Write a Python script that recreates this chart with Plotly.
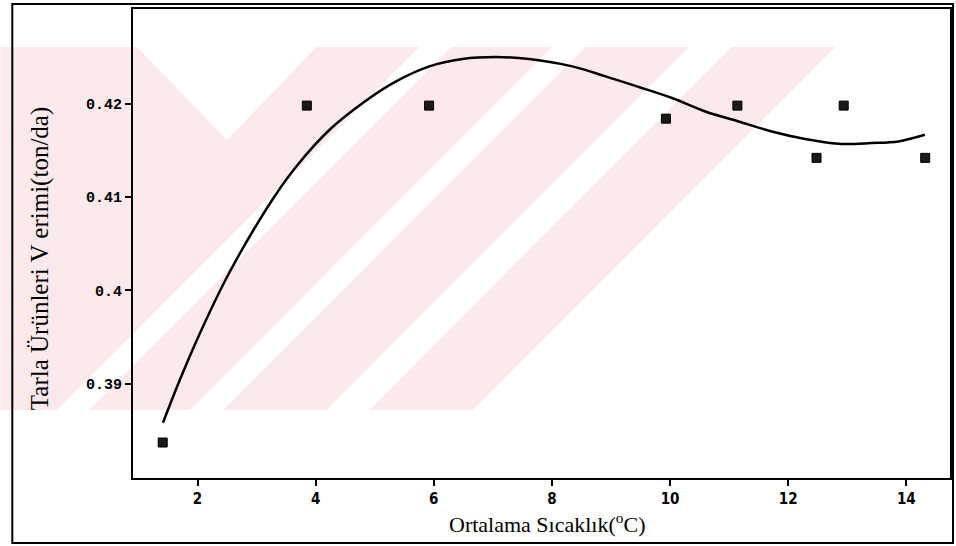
import plotly.graph_objects as go

# ---- data ----
obs_x = [1.41, 3.85, 5.92, 9.93, 11.14, 12.48, 12.94, 14.32]
obs_y = [0.3837, 0.4198, 0.4198, 0.4184, 0.4198, 0.4142, 0.4198, 0.4142]

fit_x = [1.414, 1.701, 2.046, 2.546, 3.277, 3.672, 4.235, 4.797, 5.361, 5.924,
         6.486, 7.051, 7.613, 8.345, 8.909, 9.471, 10.034, 10.598, 11.160,
         11.723, 12.287, 12.850, 13.412, 13.863, 14.314]
fit_y = [0.38582, 0.39043, 0.39550, 0.40200, 0.40982, 0.41328, 0.41721, 0.42008,
         0.42239, 0.42400, 0.42479, 0.42500, 0.42479, 0.42400, 0.42293, 0.42179,
         0.42061, 0.41917, 0.41810, 0.41703, 0.41622, 0.41571, 0.41579, 0.41596,
         0.41668]

x_ticks = [2, 4, 6, 8, 10, 12, 14]
y_ticks = [0.39, 0.40, 0.41, 0.42]
y_tick_text = ["0.39", "0.4", "0.41", "0.42"]

x_title = "Ortalama Sıcaklık(<sup>o</sup>C)"
y_title = "Tarla Ürünleri V erimi(ton/da)"

# ---- layout geometry (pixels) ----
W, H = 956, 546
L, R, T, B = 133, 952, 9, 478


def px(xp):
    return (xp - L) / (R - L)


def py(yp):
    return (B - yp) / (B - T)


def poly(points):
    return "M " + " L ".join(f"{px(a):.5f},{py(b):.5f}" for a, b in points) + " Z"


PINK = "#fde9ec"
shapes = []
band_top, band_bot = 47, 410
shapes.append(dict(type="path", xref="paper", yref="paper", layer="below",
                   path=poly([(0, band_top), (910, band_top), (910, band_bot), (0, band_bot)]),
                   fillcolor=PINK, line=dict(width=0)))
for a, b in [(420, 452), (553, 587), (690, 733)]:
    d = band_bot - band_top
    shapes.append(dict(type="path", xref="paper", yref="paper", layer="below",
                       path=poly([(a, band_top), (b, band_top), (b - d, band_bot), (a - d, band_bot)]),
                       fillcolor="white", line=dict(width=0)))
shapes.append(dict(type="path", xref="paper", yref="paper", layer="below",
                   path=poly([(137, band_top), (317, band_top), (227, 140)]),
                   fillcolor="white", line=dict(width=0)))
shapes.append(dict(type="path", xref="paper", yref="paper", layer="below",
                   path=poly([(837, band_top), (960, band_top), (960, band_bot), (474, band_bot)]),
                   fillcolor="white", line=dict(width=0)))

shapes.append(dict(type="rect", xref="paper", yref="paper", layer="above",
                   x0=px(12), x1=px(955), y0=py(543), y1=py(4),
                   line=dict(color="black", width=2), fillcolor="rgba(0,0,0,0)"))

fig = go.Figure()
fig.add_trace(go.Scatter(x=fit_x, y=fit_y, mode="lines",
                         line=dict(color="black", width=2.5, shape="spline", smoothing=1.0),
                         hoverinfo="skip", showlegend=False))
fig.add_trace(go.Scatter(x=obs_x, y=obs_y, mode="markers",
                         marker=dict(symbol="square", size=9, color="#1a1a1a",
                                     line=dict(color="black", width=1)),
                         showlegend=False))

fig.update_layout(
    width=W, height=H,
    margin=dict(l=L, r=W - R, t=T, b=H - B),
    paper_bgcolor="white", plot_bgcolor="rgba(0,0,0,0)",
    shapes=shapes,
    xaxis=dict(range=[0.907, 14.74], tickvals=x_ticks, ticks="outside", ticklen=6,
               tickwidth=1.5, tickcolor="black", showgrid=False, zeroline=False,
               showline=True, linecolor="black", linewidth=2, mirror=True,
               tickfont=dict(family="Liberation Sans Narrow, DejaVu Sans Condensed, Arial",
                             size=15, color="black", weight="bold")),
    yaxis=dict(range=[0.3799, 0.43015], tickvals=y_ticks, ticktext=y_tick_text,
               ticks="outside", ticklen=6, tickwidth=1.5, tickcolor="black",
               showgrid=False, zeroline=False,
               showline=True, linecolor="black", linewidth=2, mirror=True,
               tickfont=dict(family="Liberation Mono, Courier New, monospace",
                             size=15, color="black", weight="bold")),
    annotations=[
        dict(text=x_title, xref="paper", yref="paper", x=px(548), y=py(523),
             showarrow=False, xanchor="center", yanchor="middle",
             font=dict(family="Liberation Serif, Times New Roman, serif", size=22, color="black")),
        dict(text=y_title, xref="paper", yref="paper", x=px(40), y=py(259),
             showarrow=False, xanchor="center", yanchor="middle", textangle=-90,
             font=dict(family="Liberation Serif, Times New Roman, serif", size=25, color="black")),
    ],
)

fig.write_html("out.html")
